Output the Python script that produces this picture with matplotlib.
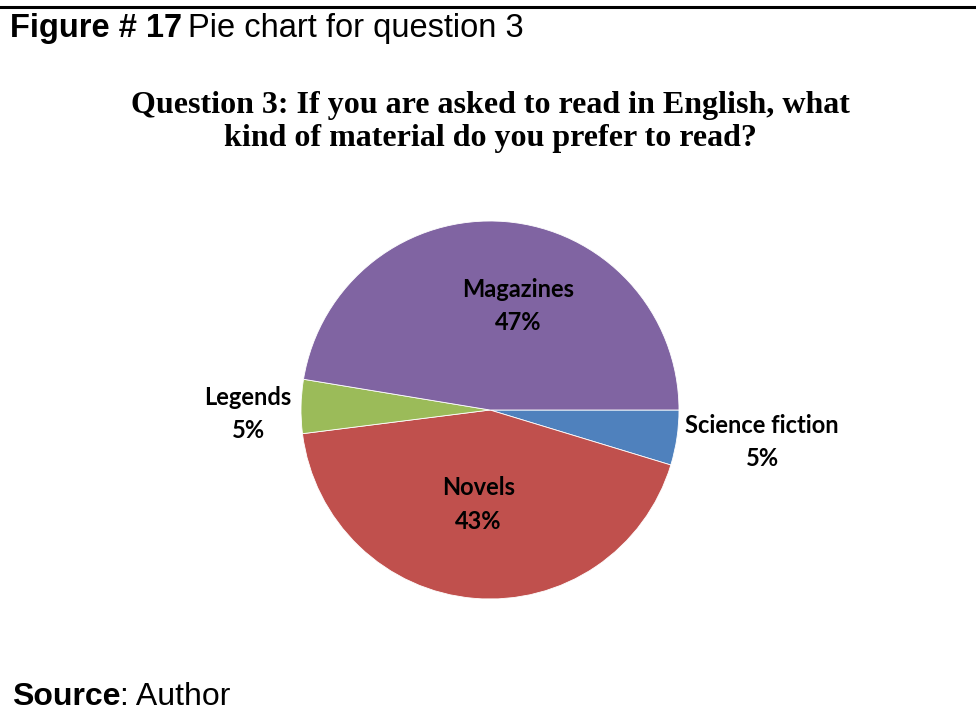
import matplotlib.pyplot as plt
from matplotlib.lines import Line2D

# data
categories = ['Science fiction', 'Novels', 'Legends', 'Magazines']
shares = [4.7, 43.3, 4.6, 47.4]
pct_labels = ['5%', '43%', '5%', '47%']
colors = ['#4F81BD', '#C0504D', '#9BBB59', '#8064A2']
# label anchor spots (axes data units)
label_pos = [(1.44, -0.17), (-0.06, -0.5), (-1.28, -0.02), (0.15, 0.55)]

W, H = 976, 726
fig = plt.figure(figsize=(W / 100, H / 100), dpi=100)
fig.patch.set_facecolor('white')

# pie axes: centre ~ (490, 410) px, radius ~189 px
ax = fig.add_axes([301 / W, 1 - 599 / H, 378 / W, 378 / H])
ax.pie(shares, colors=colors, startangle=0, counterclock=False, radius=1,
       wedgeprops=dict(linewidth=0.6, edgecolor='white'))
ax.set_xlim(-1, 1)
ax.set_ylim(-1, 1)
ax.set_aspect('equal')
ax.axis('off')

for cat, pct, (x, y) in zip(categories, pct_labels, label_pos):
    ax.text(x, y, cat + '\n' + pct, ha='center', va='center',
            fontsize=17, fontweight='bold', family='Lato',
            linespacing=1.55, color='black')

# title
fig.text(490 / W, 1 - 122 / H,
         'Question 3: If you are asked to read in English, what\n'
         'kind of material do you prefer to read?',
         ha='center', va='center', fontsize=23, fontweight='bold',
         family='Liberation Serif', linespacing=1.2)

# caption
t1 = fig.text(10 / W, 1 - 28 / H, 'Figure # 17', ha='left', va='center',
              fontsize=23.5, fontweight='bold', family='Liberation Sans')
fig.canvas.draw()
bb = t1.get_window_extent()
fig.text((bb.x1 + 6) / W, 1 - 28 / H, 'Pie chart for question 3',
         ha='left', va='center', fontsize=23.5, family='Liberation Sans')

# source line
s1 = fig.text(12 / W, 1 - 697 / H, 'Source', ha='left', va='center',
              fontsize=23, fontweight='bold', family='Liberation Sans')
fig.canvas.draw()
bb = s1.get_window_extent()
fig.text(bb.x1 / W, 1 - 697 / H, ': Author', ha='left', va='center',
         fontsize=23, family='Liberation Sans')

# rule along the top
fig.add_artist(Line2D([0, 1], [1 - 6.5 / H, 1 - 6.5 / H],
                      transform=fig.transFigure, color='black', linewidth=2.2))

fig.savefig('out.png', dpi=100)
